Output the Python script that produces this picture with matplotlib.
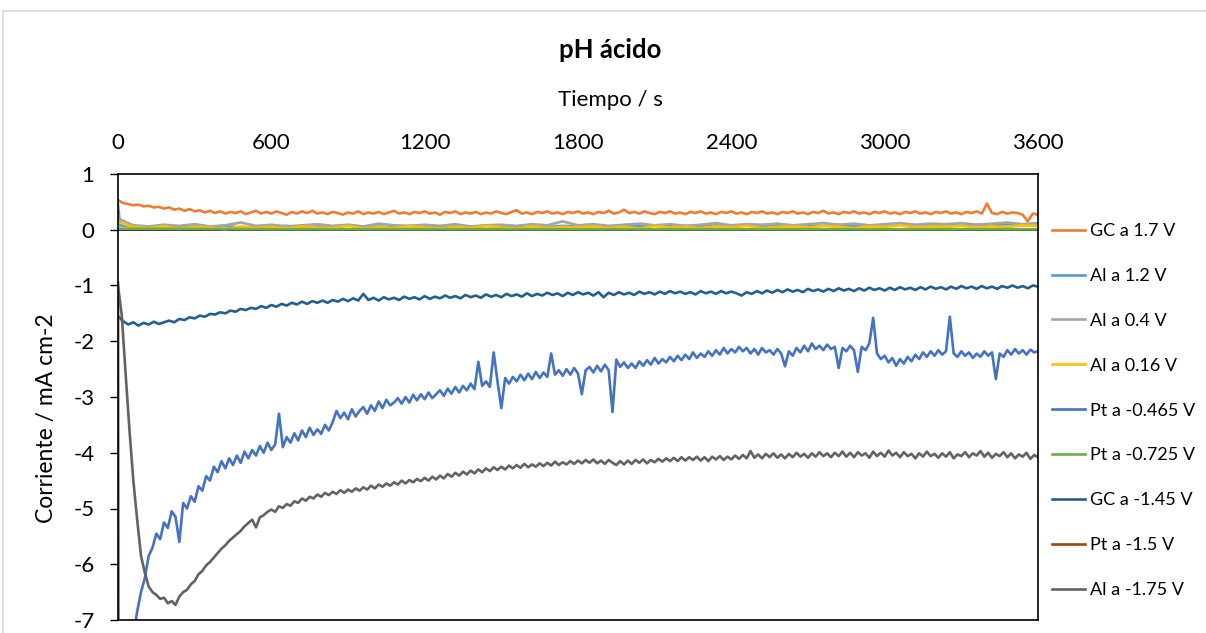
import numpy as np
import matplotlib
matplotlib.use("Agg")
import matplotlib.pyplot as plt
from matplotlib.lines import Line2D

plt.rcParams['font.family'] = ['Lato', 'DejaVu Sans']
plt.rcParams['axes.unicode_minus'] = False

# ---------------- data ----------------
title = "pH ácido"
x_label = "Tiempo / s"
y_label = "Corriente / mA cm-2"
x_ticks = [0, 600, 1200, 1800, 2400, 3000, 3600]
y_ticks = [1, 0, -1, -2, -3, -4, -5, -6, -7]

labels = ["GC a 1.7 V", "Al a 1.2 V", "Al a 0.4 V", "Al a 0.16 V", "Pt a -0.465 V",
          "Pt a -0.725 V", "GC a -1.45 V", "Pt a -1.5 V", "Al a -1.75 V"]
colors = ["#ED7D31", "#5B9BD5", "#A5A5A5", "#FFC000", "#4472C4",
          "#70AD47", "#255E91", "#9E480E", "#636363"]

t15 = list(range(0, 3601, 15))
t20 = list(range(0, 3601, 20))
t60 = list(range(0, 3601, 60))

gc_17 = [0.53, 0.48, 0.46, 0.44, 0.45, 0.42, 0.43, 0.40, 0.41, 0.38,
         0.40, 0.36, 0.38, 0.34, 0.37, 0.33, 0.35, 0.31, 0.34, 0.30,
         0.33, 0.29, 0.32, 0.30, 0.33, 0.28, 0.31, 0.34, 0.29, 0.32,
         0.29, 0.33, 0.30, 0.27, 0.32, 0.29, 0.33, 0.30, 0.34, 0.29,
         0.31, 0.28, 0.32, 0.30, 0.27, 0.31, 0.29, 0.33, 0.28, 0.31,
         0.29, 0.32, 0.28, 0.31, 0.34, 0.29, 0.31, 0.28, 0.32, 0.30,
         0.33, 0.29, 0.31, 0.27, 0.32, 0.30, 0.33, 0.28, 0.31, 0.29,
         0.32, 0.28, 0.31, 0.29, 0.33, 0.30, 0.28, 0.32, 0.35, 0.29,
         0.31, 0.28, 0.32, 0.30, 0.33, 0.29, 0.31, 0.28, 0.32, 0.30,
         0.33, 0.29, 0.31, 0.28, 0.32, 0.30, 0.34, 0.29, 0.31, 0.36,
         0.30, 0.32, 0.29, 0.33, 0.30, 0.28, 0.32, 0.30, 0.33, 0.29,
         0.31, 0.28, 0.32, 0.30, 0.33, 0.29, 0.31, 0.28, 0.32, 0.30,
         0.33, 0.29, 0.31, 0.28, 0.32, 0.30, 0.33, 0.29, 0.31, 0.28,
         0.32, 0.30, 0.33, 0.29, 0.31, 0.28, 0.32, 0.30, 0.34, 0.29,
         0.31, 0.28, 0.32, 0.30, 0.33, 0.29, 0.31, 0.28, 0.32, 0.30,
         0.33, 0.29, 0.31, 0.28, 0.32, 0.30, 0.33, 0.29, 0.31, 0.28,
         0.32, 0.30, 0.33, 0.29, 0.31, 0.28, 0.32, 0.30, 0.33, 0.29,
         0.47, 0.30, 0.28, 0.32, 0.29, 0.31, 0.30, 0.27, 0.15, 0.29,
         0.27]

al_12_t = [0, 8] + list(range(60, 3601, 60))
al_12 = [0.45, 0.08, 0.06, 0.05, 0.07, 0.04, 0.06, 0.05, 0.07, 0.04, 0.06,
         0.05, 0.07, 0.04, 0.06, 0.05, 0.08, 0.05, 0.06, 0.04, 0.07,
         0.05, 0.06, 0.08, 0.05, 0.07, 0.05, 0.06, 0.08, 0.05, 0.07,
         0.06, 0.08, 0.05, 0.07, 0.06, 0.08, 0.06, 0.07, 0.05, 0.08,
         0.06, 0.08, 0.07, 0.09, 0.06, 0.08, 0.07, 0.09, 0.06, 0.08,
         0.07, 0.09, 0.07, 0.08, 0.10, 0.07, 0.09, 0.08, 0.10, 0.08,
         0.09]

al_04 = [0.20, 0.08, 0.06, 0.09, 0.07, 0.10, 0.06, 0.08, 0.13, 0.07,
         0.09, 0.06, 0.08, 0.10, 0.07, 0.09, 0.06, 0.11, 0.08, 0.07,
         0.09, 0.07, 0.10, 0.06, 0.08, 0.09, 0.07, 0.10, 0.08, 0.15,
         0.08, 0.10, 0.07, 0.09, 0.11, 0.08, 0.10, 0.07, 0.09, 0.12,
         0.08, 0.10, 0.09, 0.11, 0.08, 0.10, 0.12, 0.09, 0.11, 0.08,
         0.10, 0.12, 0.09, 0.11, 0.10, 0.12, 0.09, 0.11, 0.13, 0.10,
         0.12]

al_016 = [0.14, 0.05, 0.03, 0.06, 0.02, 0.05, 0.04, 0.01, 0.06, 0.03,
          0.05, 0.02, 0.06, 0.04, 0.03, 0.07, 0.02, 0.05, 0.03, 0.06,
          0.04, 0.02, 0.05, 0.03, 0.07, 0.04, 0.02, 0.06, 0.03, 0.05,
          0.04, 0.06, 0.03, 0.05, 0.02, 0.07, 0.04, 0.05, 0.03, 0.06,
          0.04, 0.07, 0.03, 0.05, 0.06, 0.04, 0.07, 0.05, 0.03, 0.06,
          0.05, 0.08, 0.04, 0.06, 0.05, 0.07, 0.04, 0.06, 0.05, 0.08,
          0.07]

pt_0465_t = list(range(60, 3601, 15))
pt_0465 = [-7.25, -6.85, -6.50, -6.25, -5.85, -5.70, -5.45, -5.55, -5.25, -5.35,
           -5.05, -5.15, -5.60, -4.90, -5.00, -4.78, -4.88, -4.60, -4.68, -4.42,
           -4.50, -4.25, -4.35, -4.15, -4.28, -4.10, -4.22, -4.05, -4.18, -3.98,
           -4.10, -3.95, -4.05, -3.88, -4.00, -3.82, -3.95, -3.85, -3.30, -3.90,
           -3.72, -3.82, -3.65, -3.78, -3.60, -3.72, -3.55, -3.68, -3.58, -3.66,
           -3.50, -3.60, -3.45, -3.25, -3.38, -3.28, -3.40, -3.22, -3.35, -3.25,
           -3.18, -3.30, -3.15, -3.25, -3.08, -3.20, -3.05, -3.15, -3.10, -3.02,
           -3.12, -3.00, -3.10, -2.96, -3.06, -2.95, -3.04, -2.92, -3.02, -2.95,
           -2.88, -2.98, -2.85, -2.94, -2.82, -2.92, -2.80, -2.88, -2.76, -2.86,
           -2.37, -2.80, -2.72, -2.82, -2.20, -2.72, -3.20, -2.66, -2.76, -2.64,
           -2.72, -2.60, -2.70, -2.58, -2.68, -2.55, -2.66, -2.56, -2.64, -2.22,
           -2.60, -2.52, -2.62, -2.50, -2.60, -2.48, -2.58, -2.95, -2.52, -2.46,
           -2.56, -2.44, -2.54, -2.42, -2.52, -3.27, -2.33, -2.46, -2.38, -2.48,
           -2.40, -2.48, -2.36, -2.44, -2.34, -2.42, -2.30, -2.40, -2.32, -2.38,
           -2.28, -2.36, -2.26, -2.34, -2.24, -2.32, -2.20, -2.30, -2.22, -2.28,
           -2.18, -2.26, -2.16, -2.24, -2.12, -2.22, -2.14, -2.20, -2.10, -2.18,
           -2.12, -2.22, -2.14, -2.24, -2.12, -2.20, -2.16, -2.24, -2.14, -2.22,
           -2.45, -2.18, -2.26, -2.12, -2.20, -2.08, -2.18, -2.04, -2.14, -2.08,
           -2.16, -2.06, -2.14, -2.10, -2.48, -2.12, -2.18, -2.08, -2.16, -2.55,
           -2.10, -2.16, -2.04, -1.58, -2.22, -2.32, -2.26, -2.38, -2.30, -2.44,
           -2.32, -2.40, -2.28, -2.36, -2.24, -2.32, -2.20, -2.28, -2.18, -2.26,
           -2.16, -2.24, -2.18, -1.56, -2.22, -2.28, -2.18, -2.26, -2.20, -2.30,
           -2.22, -2.28, -2.18, -2.26, -2.20, -2.68, -2.22, -2.28, -2.16, -2.24,
           -2.14, -2.22, -2.16, -2.24, -2.15, -2.20, -2.18]

pt_0725_t = [0, 600, 1200, 1800, 2400, 3000, 3600]
pt_0725 = [0.02, 0.01, 0.01, 0.01, 0.01, 0.01, 0.01]

gc_145 = [-1.55, -1.64, -1.70, -1.66, -1.72, -1.67, -1.70, -1.65, -1.69, -1.66,
          -1.63, -1.66, -1.60, -1.62, -1.57, -1.59, -1.54, -1.56, -1.51, -1.52,
          -1.48, -1.50, -1.45, -1.47, -1.42, -1.44, -1.40, -1.42, -1.37, -1.40,
          -1.35, -1.38, -1.33, -1.36, -1.31, -1.34, -1.29, -1.33, -1.28, -1.31,
          -1.27, -1.31, -1.26, -1.29, -1.24, -1.28, -1.23, -1.27, -1.15, -1.26,
          -1.22, -1.27, -1.21, -1.25, -1.22, -1.26, -1.20, -1.24, -1.21, -1.25,
          -1.19, -1.24, -1.20, -1.23, -1.18, -1.22, -1.19, -1.23, -1.17, -1.21,
          -1.18, -1.22, -1.16, -1.20, -1.17, -1.21, -1.15, -1.19, -1.16, -1.20,
          -1.14, -1.19, -1.15, -1.18, -1.13, -1.17, -1.14, -1.19, -1.13, -1.17,
          -1.12, -1.16, -1.13, -1.18, -1.12, -1.21, -1.13, -1.17, -1.12, -1.16,
          -1.13, -1.17, -1.11, -1.15, -1.12, -1.16, -1.11, -1.15, -1.10, -1.14,
          -1.11, -1.15, -1.12, -1.16, -1.10, -1.14, -1.11, -1.15, -1.10, -1.14,
          -1.11, -1.14, -1.18, -1.12, -1.15, -1.10, -1.14, -1.09, -1.13, -1.08,
          -1.12, -1.07, -1.11, -1.08, -1.12, -1.06, -1.10, -1.07, -1.11, -1.06,
          -1.10, -1.05, -1.09, -1.06, -1.10, -1.05, -1.09, -1.04, -1.08, -1.05,
          -1.09, -1.04, -1.08, -1.03, -1.07, -1.04, -1.08, -1.03, -1.07, -1.02,
          -1.06, -1.03, -1.07, -1.02, -1.06, -1.01, -1.05, -1.02, -1.06, -1.01,
          -1.05, -1.02, -1.06, -1.01, -1.04, -1.00, -1.04, -1.01, -1.05, -1.00,
          -1.02]

pt_15_t = [0, 1, 2]
pt_15 = [-0.95, -5.0, -9.0]

al_175 = [-1.00, -1.55, -2.60, -3.60, -4.50, -5.20, -5.85, -6.15, -6.40, -6.50,
          -6.55, -6.62, -6.60, -6.70, -6.66, -6.73, -6.58, -6.50, -6.46, -6.36,
          -6.30, -6.18, -6.12, -6.02, -5.96, -5.88, -5.80, -5.72, -5.66, -5.58,
          -5.52, -5.46, -5.40, -5.32, -5.26, -5.20, -5.34, -5.16, -5.12, -5.06,
          -5.02, -5.06, -4.96, -4.99, -4.92, -4.95, -4.87, -4.90, -4.82, -4.86,
          -4.79, -4.82, -4.75, -4.79, -4.72, -4.76, -4.70, -4.74, -4.67, -4.72,
          -4.66, -4.70, -4.64, -4.68, -4.62, -4.66, -4.59, -4.64, -4.57, -4.61,
          -4.55, -4.59, -4.53, -4.57, -4.50, -4.55, -4.49, -4.53, -4.47, -4.51,
          -4.45, -4.50, -4.43, -4.48, -4.41, -4.46, -4.38, -4.43, -4.36, -4.41,
          -4.34, -4.39, -4.32, -4.37, -4.30, -4.35, -4.28, -4.33, -4.26, -4.31,
          -4.25, -4.30, -4.23, -4.28, -4.22, -4.27, -4.20, -4.26, -4.21, -4.25,
          -4.19, -4.24, -4.18, -4.23, -4.16, -4.22, -4.17, -4.21, -4.15, -4.20,
          -4.14, -4.19, -4.13, -4.18, -4.12, -4.19, -4.14, -4.20, -4.13, -4.18,
          -4.22, -4.15, -4.21, -4.14, -4.20, -4.13, -4.18, -4.12, -4.19, -4.13,
          -4.17, -4.11, -4.16, -4.10, -4.15, -4.09, -4.15, -4.08, -4.14, -4.08,
          -4.13, -4.07, -4.14, -4.08, -4.15, -4.07, -4.12, -4.06, -4.13, -4.07,
          -4.12, -4.05, -4.11, -4.04, -4.10, -3.97, -4.09, -4.03, -4.10, -4.02,
          -4.08, -4.01, -4.09, -4.03, -4.10, -4.02, -4.08, -4.00, -4.07, -4.02,
          -4.09, -4.01, -4.07, -3.99, -4.06, -4.01, -4.08, -4.00, -4.06, -3.98,
          -4.07, -4.00, -4.08, -3.99, -4.05, -4.01, -4.09, -3.98, -4.06, -4.00,
          -4.07, -3.96, -4.05, -4.00, -4.08, -3.99, -4.06, -4.02, -4.10, -4.01,
          -4.07, -3.98, -4.06, -4.02, -4.09, -4.01, -4.07, -3.99, -4.10, -4.03,
          -4.06, -3.99, -4.08, -4.01, -4.05, -3.97, -4.07, -4.00, -4.09, -4.02,
          -4.06, -3.99, -4.08, -4.01, -4.10, -4.03, -4.07, -4.00, -4.11, -4.04,
          -4.08]

series = [
    (t20, gc_17), (al_12_t, al_12), (t60, al_04), (t60, al_016), (pt_0465_t, pt_0465),
    (pt_0725_t, pt_0725), (t20, gc_145), (pt_15_t, pt_15), (t15, al_175),
]

# ---------------- figure ----------------
W, H = 1206, 633
fig = plt.figure(figsize=(W / 100, H / 100), dpi=100)
fig.patch.set_facecolor("white")

# outer chart-area border
fig.add_artist(Line2D([3 / W, 3 / W], [0, 1 - 11 / H], transform=fig.transFigure, color="#D9D9D9", lw=1.2))
fig.add_artist(Line2D([3 / W, 1], [1 - 11 / H, 1 - 11 / H], transform=fig.transFigure, color="#D9D9D9", lw=1.2))

left, right, top, bottom = 118, 1038, 174, 620
ax = fig.add_axes([left / W, 1 - bottom / H, (right - left) / W, (bottom - top) / H])

ax.axhline(0, color="black", lw=1.1, zorder=1)
for (tt, vv), lab, col in zip(series, labels, colors):
    ax.plot(tt, vv, color=col, lw=1.9, label=lab, zorder=2, solid_joinstyle="round")

ax.set_xlim(0, 3600)
ax.set_ylim(-7, 1)
ax.set_xticks(x_ticks)
ax.set_yticks(y_ticks)
ax.xaxis.tick_top()
ax.tick_params(axis="x", length=0, pad=15, labelsize=16)
ax.tick_params(axis="y", direction="out", length=6, width=1, pad=11, labelsize=16)
for s in ax.spines.values():
    s.set_color("black")
    s.set_linewidth(1.2)

fig.text(610 / W, 1 - 50 / H, title, ha="center", va="center", fontsize=18.5, fontweight="bold")
fig.text(610 / W, 1 - 100 / H, x_label, ha="center", va="center", fontsize=16)
fig.text(47 / W, 1 - 418 / H, y_label, ha="center", va="center", rotation=90, fontsize=16.5)

leg = fig.legend(loc="upper left", bbox_to_anchor=(1052 / W, 1 - 223 / H), frameon=False,
                 fontsize=13, handlelength=1.8, handletextpad=0.3, labelspacing=1.6,
                 borderaxespad=0, borderpad=0)

fig.savefig("out.png", dpi=100, facecolor="white")
